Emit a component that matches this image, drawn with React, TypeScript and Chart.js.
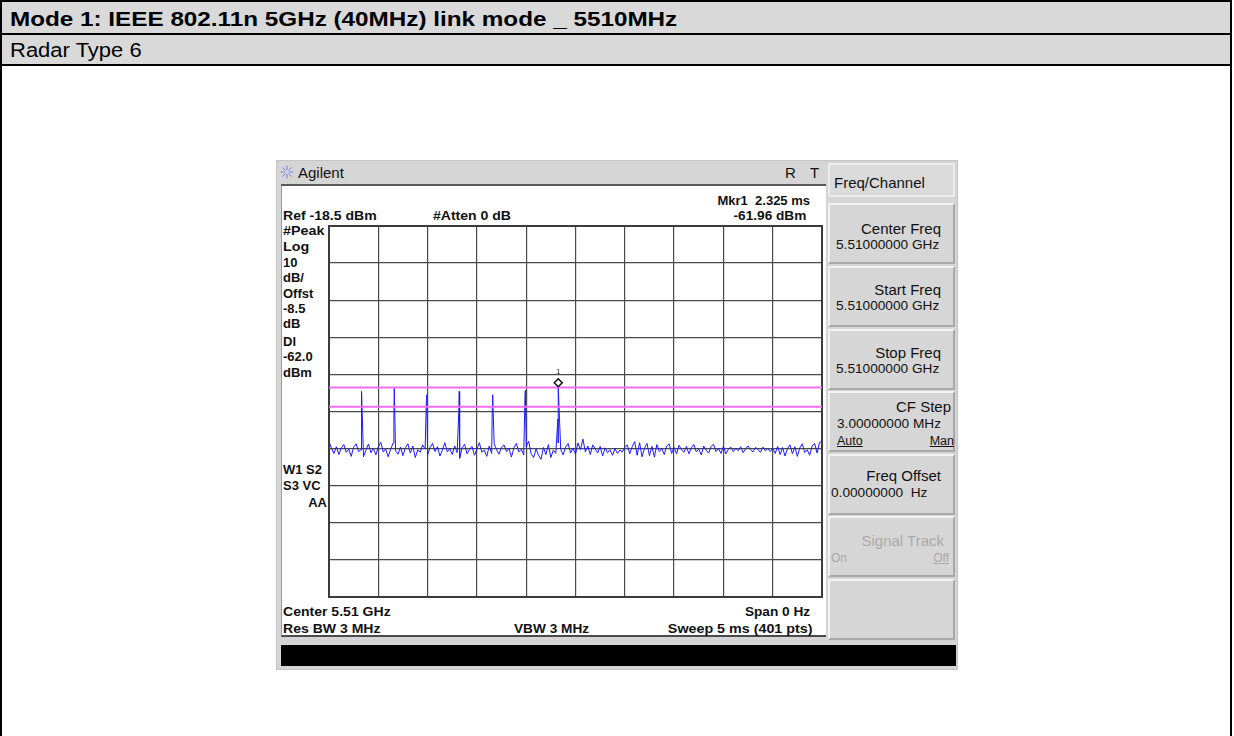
import React, { useEffect, useRef } from "react";
import { Chart, registerables } from "chart.js";

Chart.register(...registerables);

// ---------------- data ----------------
const sweepMs = 5;
const refLevelDbm = -18.5;
const dbPerDiv = 10;
const timeTicksMs = [0, 0.5, 1, 1.5, 2, 2.5, 3, 3.5, 4, 4.5, 5];
const levelTicksDbm = [-118.5, -108.5, -98.5, -88.5, -78.5, -68.5, -58.5, -48.5, -38.5, -28.5, -18.5];

const noiseStepMs = 0.025;
const noiseLevels = [
  -76.6, -78.4, -79.8, -78.0, -80.1, -78.3, -77.4, -79.5, -78.6, -80.6, -78.1, -77.2, -79.3, -78.8, -80.7, -78.9, -77.3, -79.6, -78.4, -80.2,
  -78.0, -76.8, -79.4, -78.6, -80.7, -78.7, -77.0, -79.1, -80.0, -78.1, -80.4, -78.3, -77.2, -79.7, -77.8, -80.9, -78.8, -79.5, -77.5, -78.6,
  -80.2, -78.2, -77.1, -79.3, -78.0, -80.5, -78.9, -76.9, -79.4, -78.5, -80.1, -77.8, -79.6, -81.1, -78.3, -77.3, -79.9, -78.7, -77.9, -80.3,
  -78.6, -76.9, -79.5, -78.9, -80.6, -77.8, -79.8, -77.2, -78.8, -80.0, -78.1, -77.5, -79.3, -78.4, -80.8, -78.3, -77.1, -79.4, -78.7, -80.2,
  -78.0, -76.5, -79.9, -80.9, -78.6, -80.3, -81.4, -78.2, -80.1, -77.4, -80.9, -78.9, -79.8, -77.0, -78.7, -80.2, -78.1, -77.1, -79.7, -78.4,
  -80.0, -77.0, -78.8, -75.9, -79.4, -77.8, -80.1, -77.5, -78.6, -79.7, -77.9, -80.5, -78.3, -79.6, -78.8, -80.3, -78.5, -79.8, -78.9, -79.4,
  -78.2, -77.5, -79.9, -78.0, -76.6, -80.3, -76.9, -80.7, -78.4, -77.1, -80.4, -77.9, -80.8, -77.4, -79.3, -78.5, -80.1, -77.8, -77.2, -79.8,
  -78.2, -79.9, -77.6, -78.8, -79.5, -77.9, -79.9, -78.3, -77.4, -79.4, -78.6, -80.2, -77.8, -78.9, -79.7, -78.0, -77.3, -79.3, -78.4, -79.8,
  -77.9, -79.9, -78.7, -78.1, -79.3, -78.4, -79.1, -78.0, -79.6, -78.5, -77.8, -78.8, -79.4, -78.2, -78.7, -79.5, -78.1, -79.1, -78.5, -79.3,
  -78.4, -79.8, -77.9, -80.1, -78.2, -80.5, -78.5, -77.5, -79.9, -78.0, -80.6, -78.3, -77.2, -79.6, -78.8, -80.3, -77.8, -77.1, -79.7, -76.8,
  -76.6,
];

const peakTimesMs = [0.332, 0.662, 0.991, 1.321, 1.66, 1.991, 2.325];
const peakLevelsDbm = [-63.1, -62.2, -64.0, -63.1, -64.0, -62.8, -61.96];
const shoulderLevelsDbm = [-71.0, -70.0, -66.0, -68.0, -67.0, -65.0, -70.5];

const displayLineDbm = -62.0;
const thresholdLineDbm = -67.2;
const markerTimeMs = 2.325;
const markerLevelDbm = -61.96;

// ---------------- helpers ----------------
const FONT = '"Liberation Sans", Arial, Helvetica, sans-serif';

function buildTrace() {
  const pts: { x: number; y: number }[] = noiseLevels.map((v, i) => ({ x: i * noiseStepMs, y: v }));
  peakTimesMs.forEach((t, i) => {
    pts.push({ x: t - 0.004, y: shoulderLevelsDbm[i] });
    pts.push({ x: t, y: peakLevelsDbm[i] });
  });
  pts.sort((a, b) => a.x - b.x);
  return pts;
}

type TP = {
  x: number;
  y: number;
  size?: number;
  bold?: boolean;
  align?: "left" | "right" | "center";
  color?: string;
  children: React.ReactNode;
  underline?: boolean;
  sx?: number;
};

function T({ x, y, size = 13, bold = false, align = "left", color = "#111", children, underline, sx }: TP) {
  const style: React.CSSProperties = {
    position: "absolute",
    top: y - size / 2 - 1,
    height: size + 2,
    lineHeight: `${size + 2}px`,
    fontSize: size,
    fontWeight: bold ? 700 : 400,
    fontFamily: FONT,
    color,
    whiteSpace: "pre",
    textDecoration: underline ? "underline" : "none",
  };
  if (sx) {
    style.transform = `scaleX(${sx})`;
    style.transformOrigin = align === "right" ? "right center" : "left center";
  }
  if (align === "left") style.left = x;
  else if (align === "right") style.right = 1234 - x;
  else {
    style.left = x - 200;
    style.width = 400;
    style.textAlign = "center";
  }
  return <div style={style}>{children}</div>;
}

function Key({ top, height }: { top: number; height: number }) {
  return (
    <div
      style={{
        position: "absolute",
        left: 828,
        top,
        width: 127,
        height,
        boxSizing: "border-box",
        background: "#d6d6d6",
        borderTop: "2px solid #f2f2f2",
        borderLeft: "2px solid #f2f2f2",
        borderBottom: "2px solid #a8a8a8",
        borderRight: "2px solid #a8a8a8",
      }}
    />
  );
}

function Star() {
  const lines = [];
  for (let i = 0; i < 8; i++) {
    const a = (i * Math.PI) / 4;
    lines.push(
      <line key={i} x1={7 + Math.cos(a) * 2} y1={7 + Math.sin(a) * 2} x2={7 + Math.cos(a) * 6.5} y2={7 + Math.sin(a) * 6.5} stroke="#7b7bf5" strokeWidth={1} />
    );
  }
  return (
    <svg width={14} height={14} style={{ position: "absolute", left: 280, top: 165 }}>
      {lines}
    </svg>
  );
}

// ---------------- chart ----------------
function Trace() {
  const ref = useRef<HTMLCanvasElement | null>(null);
  useEffect(() => {
    if (!ref.current) return;
    const markerPlugin = {
      id: "marker",
      afterDatasetsDraw(chart: any) {
        const { ctx, scales } = chart;
        const px = scales.x.getPixelForValue(markerTimeMs);
        const py = scales.y.getPixelForValue(markerLevelDbm);
        ctx.save();
        ctx.beginPath();
        const cy = py - 4.5;
        ctx.moveTo(px, cy - 4);
        ctx.lineTo(px + 4, cy);
        ctx.lineTo(px, cy + 4);
        ctx.lineTo(px - 4, cy);
        ctx.closePath();
        ctx.fillStyle = "#ffffff";
        ctx.fill();
        ctx.lineWidth = 1.5;
        ctx.strokeStyle = "#111";
        ctx.stroke();
        ctx.fillStyle = "#333";
        ctx.font = `8px ${FONT}`;
        ctx.textAlign = "center";
        ctx.textBaseline = "middle";
        ctx.fillText("1", px, cy - 11);
        ctx.restore();
      },
    };
    const framePlugin = {
      id: "frame",
      beforeDatasetsDraw(chart: any) {
        const { ctx, chartArea } = chart;
        ctx.save();
        ctx.strokeStyle = "#3c3c3c";
        ctx.lineWidth = 2;
        ctx.strokeRect(chartArea.left, chartArea.top, chartArea.right - chartArea.left, chartArea.bottom - chartArea.top);
        ctx.restore();
      },
    };
    const chart = new Chart(ref.current, {
      type: "line",
      data: {
        datasets: [
          {
            data: [
              { x: 0, y: displayLineDbm },
              { x: sweepMs, y: displayLineDbm },
            ],
            borderColor: "#f46cf4",
            borderWidth: 2,
            pointRadius: 0,
          },
          {
            data: [
              { x: 0, y: thresholdLineDbm },
              { x: sweepMs, y: thresholdLineDbm },
            ],
            borderColor: "#f46cf4",
            borderWidth: 2,
            pointRadius: 0,
          },
          {
            data: buildTrace(),
            borderColor: "#1a1aff",
            borderWidth: 1,
            pointRadius: 0,
            tension: 0,
          },
        ],
      },
      options: {
        animation: false,
        responsive: false,
        maintainAspectRatio: false,
        events: [],
        layout: { padding: 5 },
        plugins: { legend: { display: false }, tooltip: { enabled: false } },
        scales: {
          x: {
            type: "linear",
            min: 0,
            max: sweepMs,
            afterBuildTicks: (axis: any) => {
              axis.ticks = timeTicksMs.map((v) => ({ value: v }));
            },
            ticks: { display: false },
            grid: { color: "#4a4a4a", lineWidth: 1.2, drawTicks: false },
            border: { display: false },
          },
          y: {
            type: "linear",
            min: refLevelDbm - 10 * dbPerDiv,
            max: refLevelDbm,
            afterBuildTicks: (axis: any) => {
              axis.ticks = levelTicksDbm.map((v) => ({ value: v }));
            },
            ticks: { display: false },
            grid: { color: "#4a4a4a", lineWidth: 1.2, drawTicks: false },
            border: { display: false },
          },
        },
      },
      plugins: [framePlugin, markerPlugin],
    });
    return () => chart.destroy();
  }, []);
  return (
    <canvas
      ref={ref}
      width={503}
      height={381}
      style={{ position: "absolute", left: 324, top: 221, width: 503, height: 381 }}
    />
  );
}

// ---------------- page ----------------
export default function App() {
  const keyTops = [203, 266, 329, 391, 454, 516, 579];
  return (
    <div
      style={{
        position: "fixed",
        left: 0,
        top: 0,
        width: 1234,
        height: 736,
        background: "#ffffff",
        overflow: "hidden",
        fontFamily: FONT,
      }}
    >
      {/* table */}
      <div style={{ position: "absolute", left: 0, top: 0, width: 1232, height: 35, background: "#d9d9d9", boxSizing: "border-box", border: "2px solid #000" }} />
      <div style={{ position: "absolute", left: 0, top: 35, width: 1232, height: 31, background: "#d9d9d9", boxSizing: "border-box", borderLeft: "2px solid #000", borderRight: "2px solid #000", borderBottom: "2px solid #000" }} />
      <div style={{ position: "absolute", left: 0, top: 66, width: 1232, height: 680, boxSizing: "border-box", borderLeft: "2px solid #000", borderRight: "2px solid #000" }} />
      <T x={10} y={18} size={21} bold color="#000" sx={1.155}>Mode 1: IEEE 802.11n 5GHz (40MHz) link mode _ 5510MHz</T>
      <T x={10} y={50} size={20} color="#000" sx={1.1}>Radar Type 6</T>

      {/* instrument frame */}
      <div style={{ position: "absolute", left: 276, top: 160, width: 682, height: 510, background: "#d5d5d5", boxSizing: "border-box", border: "1px solid #c4c4c4" }} />
      <Star />
      <T x={298} y={172} size={15}>Agilent</T>
      <T x={785} y={172} size={15}>R</T>
      <T x={810} y={172} size={15}>T</T>
      <div style={{ position: "absolute", left: 281, top: 184, width: 545, height: 2, background: "#5a5a5a" }} />
      <div style={{ position: "absolute", left: 281, top: 186, width: 545, height: 451, background: "#ffffff", boxSizing: "border-box", borderLeft: "1px solid #9a9a9a", borderBottom: "2px solid #4a4a4a" }} />
      <div style={{ position: "absolute", left: 281, top: 645, width: 675, height: 21, background: "#000" }} />

      {/* softkeys */}
      <div style={{ position: "absolute", left: 828, top: 163, width: 127, height: 34, boxSizing: "border-box", background: "#dadada", border: "2px solid #ececec" }} />
      {keyTops.map((t, i) => (
        <Key key={i} top={t} height={61} />
      ))}
      <T x={834} y={182} size={15}>Freq/Channel</T>
      <T x={941} y={228} size={15} align="right">Center Freq</T>
      <T x={836} y={244} size={13} sx={1.05}>5.51000000 GHz</T>
      <T x={941} y={289} size={15} align="right">Start Freq</T>
      <T x={836} y={305} size={13} sx={1.05}>5.51000000 GHz</T>
      <T x={941} y={352} size={15} align="right">Stop Freq</T>
      <T x={836} y={368} size={13} sx={1.05}>5.51000000 GHz</T>
      <T x={951} y={406} size={15} align="right">CF Step</T>
      <T x={837} y={423} size={13} sx={1.05}>3.00000000 MHz</T>
      <T x={837} y={441} size={12.5} underline>Auto</T>
      <T x={954} y={441} size={12.5} align="right" underline>Man</T>
      <T x={941} y={475} size={15} align="right">Freq Offset</T>
      <T x={831} y={492} size={13} sx={1.05}>{"0.00000000  Hz"}</T>
      <T x={944} y={540} size={15} align="right" color="#a9a9a9">Signal Track</T>
      <T x={831} y={558} size={12} color="#a9a9a9">On</T>
      <T x={949} y={558} size={12} align="right" color="#a9a9a9" underline>Off</T>

      {/* display annotations */}
      <T x={810} y={200} bold align="right">{"Mkr1  2.325 ms"}</T>
      <T x={283} y={215} bold sx={1.08}>Ref -18.5 dBm</T>
      <T x={433} y={215} bold sx={1.08}>#Atten 0 dB</T>
      <T x={806} y={215} bold align="right" sx={1.05}>-61.96 dBm</T>
      <T x={283} y={230} bold sx={1.1}>#Peak</T>
      <T x={283} y={246} bold sx={1.1}>Log</T>
      <T x={283} y={262} bold>10</T>
      <T x={283} y={277} bold>dB/</T>
      <T x={283} y={293} bold>Offst</T>
      <T x={283} y={308} bold>-8.5</T>
      <T x={283} y={323} bold>dB</T>
      <T x={283} y={341} bold>Dl</T>
      <T x={283} y={356} bold>-62.0</T>
      <T x={283} y={372} bold>dBm</T>
      <T x={283} y={469} bold>W1 S2</T>
      <T x={283} y={485} bold>S3 VC</T>
      <T x={327} y={502} bold align="right">AA</T>
      <T x={283} y={611} bold sx={1.08}>Center 5.51 GHz</T>
      <T x={810} y={611} bold align="right" sx={1.05}>Span 0 Hz</T>
      <T x={283} y={628} bold sx={1.08}>Res BW 3 MHz</T>
      <T x={514} y={628} bold sx={1.05}>VBW 3 MHz</T>
      <T x={812} y={628} bold align="right" sx={1.1}>Sweep 5 ms (401 pts)</T>

      <Trace />
    </div>
  );
}
